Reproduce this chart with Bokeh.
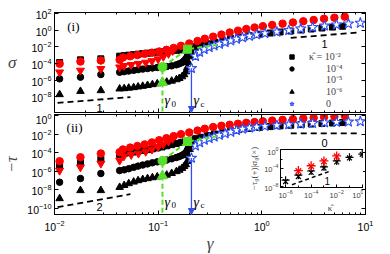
import numpy as np
from bokeh.plotting import figure
from bokeh.layouts import column
from bokeh.models import (Range1d, LogAxis, FixedTicker, Legend, LegendItem,
                          Label, Arrow, NormalHead)
from bokeh.embed import file_html
from bokeh.resources import INLINE

# ---------------- data (log10 values where noted) ----------------
g_low = [0.0112, 0.0178, 0.028, 0.0425]
g_dense = [0.047, 0.052, 0.058, 0.064, 0.071, 0.079, 0.088, 0.098, 0.109, 0.121,
           0.135, 0.150, 0.160, 0.170, 0.178, 0.185, 0.191, 0.196, 0.201, 0.206]
g_sq = [0.047, 0.052, 0.058, 0.064, 0.071, 0.079, 0.088, 0.098, 0.109, 0.121,
        0.135, 0.150, 0.167, 0.185, 0.205, 0.23, 0.26, 0.30, 0.35, 0.42, 0.5,
        0.6, 0.75, 0.95, 1.2, 1.5, 1.9, 2.4, 3.0, 3.8, 4.8, 6.0]
lg_g_rc = [-1.34, -1.27, -1.2, -1.13, -1.06, -0.99, -0.92, -0.85, -0.78, -0.7,
           -0.62, -0.55, -0.47, -0.39, -0.31, -0.23, -0.15, -0.07, 0.01, 0.1,
           0.2, 0.3, 0.4, 0.5, 0.6, 0.7, 0.8]
lg_g_rt = [-1.33, -1.26, -1.19, -1.12, -1.06, -1.0, -0.95, -0.9, -0.86]
lg_g_star = [-0.679, -0.64, -0.60, -0.556, -0.508, -0.46, -0.41, -0.354, -0.30,
             -0.245, -0.187, -0.12, -0.05, 0.03, 0.145, 0.26, 0.375, 0.49, 0.605,
             0.72, 0.835, 0.95]

# panel (i): log10 sigma
s_k2_low = [-3.9, -3.58, -3.46, -3.14]
s_k2 = [-3.08, -3.02, -2.96, -2.9, -2.84, -2.78, -2.72, -2.66, -2.6, -2.54, -2.49,
        -2.44, -2.39, -2.33, -2.2, -2.0, -1.85, -1.65, -1.45, -1.22, -1.02, -0.85,
        -0.66, -0.5, -0.36, -0.24, -0.12, 0.0, 0.12, 0.24, 0.35, 0.45]
s_k4_low = [-5.86, -5.66, -5.34, -5.07]
s_k4 = [-5.0, -4.92, -4.84, -4.76, -4.69, -4.62, -4.56, -4.5, -4.45, -4.38, -4.3,
        -4.18, -4.05, -3.9, -3.7, -3.45, -3.15, -2.85, -2.55, -2.3]
s_k6_low = [-7.74, -7.35, -7.26, -7.06]
s_k6 = [-7.02, -6.96, -6.9, -6.82, -6.74, -6.64, -6.54, -6.44, -6.34, -6.24, -6.12,
        -5.95, -5.8, -5.6, -5.35, -5.0, -4.5, -3.9, -3.2, -2.6]
s_rc_low = [-4.05, -3.78, -3.66, -3.58]
s_rc = [-3.3, -3.15, -3.0, -2.86, -2.72, -2.58, -2.38, -2.15, -1.9, -1.62, -1.32,
        -1.05, -0.8, -0.55, -0.3, -0.08, 0.12, 0.3, 0.46, 0.6, 0.76, 0.9, 1.05,
        1.2, 1.35, 1.48, 1.6]
s_rt_low = [-5.07, -4.86, -4.66, -4.47]
s_rt = [-4.3, -4.18, -4.05, -3.9, -3.72, -3.5, -3.2, -2.85, -2.5]
s_star = [-4.6, -3.15, -2.65, -2.32, -2.08, -1.88, -1.68, -1.48, -1.28, -1.08, -0.9,
          -0.72, -0.56, -0.4, -0.22, -0.04, 0.15, 0.33, 0.5, 0.64, 0.75, 0.84]

# panel (ii): log10(-tau)
t_k2_low = [-5.35, -5.0, -4.7, -4.16]
t_k2 = [-4.05, -3.98, -3.9, -3.8, -3.72, -3.64, -3.55, -3.45, -3.35, -3.22, -3.1,
        -2.97, -2.85, -2.76, -2.62, -2.45, -2.3, -2.12, -1.95, -1.76, -1.6, -1.47,
        -1.35, -1.24, -1.15, -1.07, -1.0, -0.93, -0.87, -0.81, -0.76, -0.71]
t_k4_low = [-7.16, -6.76, -6.22, -5.9]
t_k4 = [-5.82, -5.7, -5.55, -5.42, -5.3, -5.18, -5.06, -4.96, -4.86, -4.76, -4.63,
        -4.49, -4.38, -4.25, -4.12, -3.95, -3.7, -3.4, -3.1, -2.8]
t_k6_low = [-8.92, -8.05, -8.05, -7.7]
t_k6 = [-7.5, -7.3, -7.13, -6.98, -6.86, -6.76, -6.66, -6.57, -6.48, -6.38, -6.2,
        -6.0, -5.85, -5.65, -5.45, -5.25, -4.9, -4.3, -3.6, -3.0]
t_rc_low = [-4.89, -4.46, -4.06, -3.92]
t_rc = [-3.62, -3.42, -3.25, -3.07, -2.86, -2.62, -2.4, -2.18, -1.97, -1.78, -1.58,
        -1.38, -1.2, -1.06, -0.95, -0.84, -0.74, -0.66, -0.58, -0.5, -0.42, -0.34,
        -0.26, -0.19, -0.12, -0.05, 0.02]
t_rt_low = [-5.9, -5.54, -5.14, -4.81]
t_rt = [-4.35, -4.2, -4.05, -3.85, -3.62, -3.35, -3.05, -2.75, -2.45]
t_star = [-4.55, -3.23, -2.87, -2.6, -2.43, -2.25, -2.08, -1.9, -1.73, -1.55, -1.4,
          -1.28, -1.18, -1.1, -1.01, -0.93, -0.85, -0.78, -0.72, -0.67, -0.63, -0.6]

# green gamma_0 construction
g_green = [0.110, 0.110, 0.192, 0.37]
s_green = [-6.3, -4.44, -2.3, -1.8]
t_green = [-6.47, -4.85, -2.76, -2.2]

# guide lines (slopes 1, 1 / 2, 0)
g_guide_lo = [0.0107, 0.054]
g_guide_hi = [1.9, 8.9]
s_guide_lo = [-8.75, -8.05]
s_guide_hi = [-0.95, -0.28]
t_guide_lo = [-9.85, -8.45]
t_guide_hi = [-1.89, -1.89]

# inset
kap = [1e-6, 1e-5, 1e-4, 1e-3, 1e-2, 1e-1, 1.0, 10.0]
tau0_blk = [-6.6, -5.5, -4.6, -3.7, -2.4, -1.6, -0.9, -0.55]
sig0_blk = [-6.9, -5.8, -4.9, -3.95, -2.6, -1.75, -0.95, -0.6]
kap_red = [1e-5, 1e-4, 1e-3, 1e-2]
tau0_red = [-4.5, -3.45, -2.4, -1.3]
sig0_red = [-4.6, -3.55, -2.5, -1.4]
kap_guide = [10 ** -5.5, 10 ** -2.5]
lg_guide_in = [-7.6, -4.6]

y_ticks_top = [1e-10, 1e-8, 1e-6, 1e-4, 1e-2, 1e0, 1e2]
y_ticks_bot = [1e-10, 1e-8, 1e-6, 1e-4, 1e-2, 1e0]
legend_labels = ["κ̂ = 10⁻²", "\u2003\u2002\u200910⁻⁴", "\u2003\u2002\u200910⁻⁵",
                 "\u2003\u2002\u200910⁻⁶", "\u2003\u2002\u20090"]

# ---------------- helpers ----------------
def p10(a):
    return 10.0 ** np.asarray(a, dtype=float)

RED = "#ff0000"
BLUE = "#2f4fef"
GREEN = "#55e02a"
TICK_FONT = "Liberation Sans"
SERIF = "Liberation Serif"

x_range = Range1d(0.01, 10)


def style(p, yticks, show_xlabels):
    p.add_layout(LogAxis(), "above")
    p.add_layout(LogAxis(), "right")
    p.grid.visible = False
    p.outline_line_color = "black"
    p.background_fill_color = "white"
    for ax in p.axis:
        ax.major_tick_in = 4
        ax.major_tick_out = 0
        ax.minor_tick_in = 2
        ax.minor_tick_out = 0
        ax.axis_line_color = "black"
        ax.major_tick_line_color = "black"
        ax.minor_tick_line_color = "black"
        ax.major_label_text_font = TICK_FONT
        ax.major_label_text_font_size = "10.5px"
        ax.major_label_text_color = "black"
        ax.major_label_standoff = 3
    for ax in (p.left[0], p.right[0]):
        ax.ticker = FixedTicker(ticks=yticks, minor_ticks=[])
    hidden = [p.above[0], p.right[0]]
    if not show_xlabels:
        hidden.append(p.below[0])
    for ax in hidden:
        ax.major_label_text_font_size = "1px"
        ax.major_label_text_alpha = 0
        ax.major_label_standoff = 0


def lab(p, x, y, text, size="11px", font=TICK_FONT, style_="normal", align="center",
        baseline="middle", xo=0, yo=0, color="black"):
    p.add_layout(Label(x=x, y=y, text=text, text_font=font, text_font_size=size,
                       text_font_style=style_, text_align=align, text_baseline=baseline,
                       x_offset=xo, y_offset=yo, text_color=color))


def panel(p, d, green_y, star_y, guide_lo, guide_hi):
    k2_low, k2, k4_low, k4, k6_low, k6, rc_low, rc, rt_low, rt = d
    r6 = p.scatter(g_low + g_dense, p10(k6_low + k6), marker="triangle", size=7.5,
                   color="black")
    r4 = p.scatter(g_low + g_dense, p10(k4_low + k4), marker="circle", size=6.5,
                   color="black")
    r2 = p.scatter(g_low + g_sq, p10(k2_low + k2), marker="square", size=6,
                   color="black")
    p.scatter(g_low + list(p10(lg_g_rt)), p10(rt_low + rt), marker="inverted_triangle",
              size=8, color=RED)
    p.scatter(g_low + list(p10(lg_g_rc)), p10(rc_low + rc), marker="circle", size=7.5,
              color=RED)
    p.line(g_guide_lo, p10(guide_lo), line_color="black", line_width=1.8,
           line_dash="6 4")
    p.line(g_guide_hi, p10(guide_hi), line_color="black", line_width=1.8,
           line_dash="6 4")
    gstar = p10(lg_g_star)
    rs = p.scatter(gstar, p10(star_y), marker="star", size=11, line_color=BLUE,
                   fill_color="white", line_width=1.1)
    # gamma_c arrow
    p.add_layout(Arrow(end=NormalHead(size=6, fill_color=BLUE, line_color=BLUE),
                       x_start=gstar[0], y_start=10 ** star_y[0],
                       x_end=gstar[0], y_end=p.y_range.start,
                       line_color=BLUE, line_width=1.3))
    # gamma_0 construction
    gy = p10(green_y)
    p.segment(x0=[g_green[0]], y0=[gy[0]], x1=[g_green[0]], y1=[p.y_range.start],
              line_color=GREEN, line_width=2, line_dash="5 3")
    p.line(g_green, gy, line_color=GREEN, line_width=2, line_dash="5 3")
    p.scatter(g_green[:1], gy[:1], marker="triangle", size=10, color=GREEN)
    p.scatter(g_green[1:2], gy[1:2], marker="circle", size=9, color=GREEN)
    p.scatter(g_green[2:3], gy[2:3], marker="square", size=8, color=GREEN)
    return r2, r4, r6, rs


# ---------------- top panel ----------------
p1 = figure(frame_width=311, frame_height=100, x_axis_type="log", y_axis_type="log",
            x_range=x_range, y_range=Range1d(10 ** -9.9, 10 ** 2.1), title=None,
            output_backend="svg", toolbar_location=None,
            min_border_left=52, min_border_right=12, min_border_top=12,
            min_border_bottom=1)
style(p1, y_ticks_top, False)
p1.left[0].axis_label = "σ"
p1.left[0].axis_label_text_font = SERIF
p1.left[0].axis_label_text_font_style = "italic"
p1.left[0].axis_label_text_font_size = "17px"
p1.left[0].axis_label_orientation = "horizontal"
p1.left[0].axis_label_standoff = 12

r2, r4, r6, rs = panel(p1, (s_k2_low, s_k2, s_k4_low, s_k4, s_k6_low, s_k6,
                           s_rc_low, s_rc, s_rt_low, s_rt),
                       s_green, s_star, s_guide_lo, s_guide_hi)
r5 = p1.scatter([], [], marker="inverted_triangle", size=7.5, color="black")

# one legend row per kappa, stacked at the reference's row pitch
leg_rows = [(r2, 49), (r4, 37), (r5, 26), (r6, 14), (rs, 3)]
for (rend, ypos), text in zip(leg_rows, legend_labels):
    p1.add_layout(Legend(items=[LegendItem(label=text, renderers=[rend])],
                         location=(232, ypos), background_fill_alpha=0,
                         border_line_alpha=0, glyph_width=11, glyph_height=11,
                         label_height=10, label_width=10, spacing=0, padding=0,
                         margin=0, label_standoff=12, label_text_font=SERIF,
                         label_text_font_size="10px", label_text_baseline="middle"))

lab(p1, 0.0152, 10 ** 0.42, "(i)", size="13px", font=SERIF)
lab(p1, 0.0272, 10 ** -9.3, "1")
lab(p1, 4.02, 10 ** -1.62, "1")
lab(p1, 0.115, 10 ** -8.46, "γ", size="14px", font=SERIF, style_="italic", align="left")
lab(p1, 0.115, 10 ** -8.46, "0", size="9px", font=SERIF, align="left", xo=7, yo=-3)
lab(p1, 0.2188, 10 ** -8.46, "γ", size="14px", font=SERIF, style_="italic", align="left")
lab(p1, 0.2188, 10 ** -8.46, "c", size="9px", font=SERIF, align="left", xo=7, yo=-3)

# ---------------- bottom panel ----------------
p2 = figure(frame_width=311, frame_height=100, x_axis_type="log", y_axis_type="log",
            x_range=x_range, y_range=Range1d(10 ** -10.65, 10 ** 0.16), title=None,
            output_backend="svg", toolbar_location=None,
            min_border_left=52, min_border_right=12, min_border_top=1,
            min_border_bottom=20)
style(p2, y_ticks_bot, True)
p2.left[0].axis_label = "−τ"
p2.left[0].axis_label_text_font = SERIF
p2.left[0].axis_label_text_font_style = "italic"
p2.left[0].axis_label_text_font_size = "16px"
p2.left[0].axis_label_standoff = 4
p2.below[0].axis_label = "γ"
p2.below[0].axis_label_text_font = SERIF
p2.below[0].axis_label_text_font_style = "italic"
p2.below[0].axis_label_text_font_size = "17px"
p2.below[0].axis_label_standoff = 0
p2.below[0].major_label_standoff = 5

panel(p2, (t_k2_low, t_k2, t_k4_low, t_k4, t_k6_low, t_k6,
           t_rc_low, t_rc, t_rt_low, t_rt),
      t_green, t_star, t_guide_lo, t_guide_hi)

lab(p2, 0.0156, 10 ** -1.245, "(ii)", size="13px", font=SERIF)
lab(p2, 0.0272, 10 ** -9.89, "2")
lab(p2, 4.02, 10 ** -2.87, "0")
lab(p2, 0.115, 10 ** -9.35, "γ", size="14px", font=SERIF, style_="italic", align="left")
lab(p2, 0.115, 10 ** -9.35, "0", size="9px", font=SERIF, align="left", xo=7, yo=-3)
lab(p2, 0.2188, 10 ** -9.35, "γ", size="14px", font=SERIF, style_="italic", align="left")
lab(p2, 0.2188, 10 ** -9.35, "c", size="9px", font=SERIF, align="left", xo=7, yo=-3)

# ---------------- inset ----------------
ins = figure(frame_width=99, frame_height=38, x_axis_type="log", y_axis_type="log",
             x_range=Range1d(10 ** -6.4, 10 ** 1.35), y_range=Range1d(10 ** -8.2, 10 ** 0.1),
             title=None, output_backend="svg", toolbar_location=None,
             min_border_left=27, min_border_right=4, min_border_top=3,
             min_border_bottom=25)
ins.styles = {"position": "absolute", "left": "226px", "top": "146px", "z-index": "5"}
ins.grid.visible = False
ins.outline_line_color = "black"
ins.border_fill_alpha = 0
ins.background_fill_color = "white"
ins.xaxis.ticker = FixedTicker(ticks=[1e-6, 1e-4, 1e-2, 1.0],
                               minor_ticks=[1e-5, 1e-3, 1e-1, 10.0])
ins.yaxis.ticker = FixedTicker(ticks=[1e-8, 1e-4, 1.0], minor_ticks=[1e-6, 1e-2])
for ax in ins.axis:
    ax.major_tick_in = 3
    ax.major_tick_out = 0
    ax.minor_tick_in = 2
    ax.minor_tick_out = 0
    ax.major_label_text_font = TICK_FONT
    ax.major_label_text_font_size = "7.5px"
    ax.major_label_standoff = 2
    ax.axis_label_text_font = SERIF
    ax.axis_label_text_font_size = "9px"
    ax.axis_label_text_font_style = "normal"
    ax.axis_label_standoff = 2
ins.xaxis.axis_label = "κ̂"
ins.yaxis.axis_label = "−τ₀(+)|σ₀(×)"
ins.line(kap_guide, p10(lg_guide_in), line_color="black", line_width=1.5, line_dash="4 3")
ins.scatter(kap, p10(tau0_blk), marker="cross", size=8, line_color="black", line_width=1.2)
ins.scatter(kap, p10(sig0_blk), marker="x", size=7, line_color="black", line_width=1.2)
ins.scatter(kap_red, p10(tau0_red), marker="cross", size=9, line_color=RED, line_width=1.3)
ins.scatter(kap_red, p10(sig0_red), marker="x", size=8, line_color=RED, line_width=1.3)
lab(ins, 10 ** -2.73, 10 ** -6.7, "1", size="10px")

layout = column(p1, p2, ins)
open("out.html", "w").write(file_html(layout, INLINE))
